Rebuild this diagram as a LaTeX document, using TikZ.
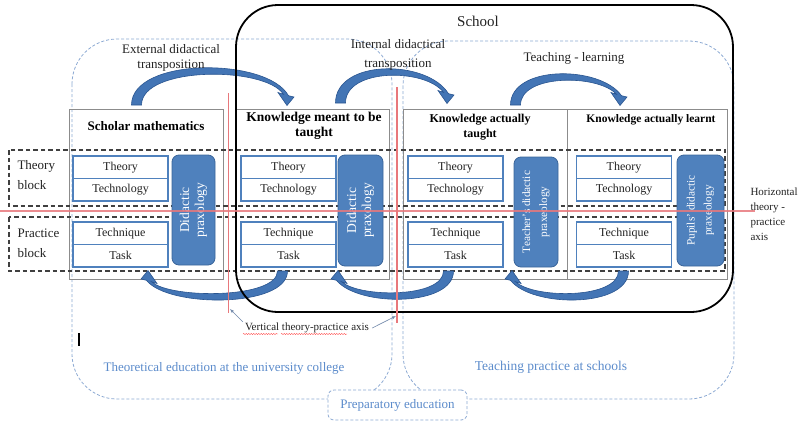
\documentclass[tikz,border=0pt]{standalone}
\usepackage{fontspec}
\setmainfont{Liberation Serif}
\usetikzlibrary{arrows.meta,decorations.pathmorphing}

\definecolor{boxblue}{HTML}{4F81BD}
\definecolor{praxfill}{HTML}{4F81BD}
\definecolor{praxedge}{HTML}{3A659A}
\definecolor{arrowfill}{HTML}{4375B5}
\definecolor{arrowedge}{HTML}{2A5590}
\definecolor{regionblue}{HTML}{8CA9D3}
\definecolor{labelblue}{HTML}{5B8BCB}
\definecolor{axisred}{HTML}{E8787C}
\definecolor{stagegray}{HTML}{8C8C8C}
\definecolor{textdark}{HTML}{222222}

% Curved block arrow: tail x, tip x, base y, control height
\newcommand\bendarrow[4]{%
  \filldraw[bendarrowstyle]
    ({#1-5.5},#3) .. controls ({#1-5.5},#4) and ({#2-20},#4) .. ({#2+1.5},{#3-9.3})
    -- ({#2+7},{#3-8}) -- (#2,{#3+0.5}) -- ({#2-9},{#3-12.5}) -- ({#2-3.5},{#3-10.7})
    .. controls ({#2-22},{#4+9}) and ({#1+4.5},{#4+9}) .. ({#1+4.5},#3) -- cycle;}

\begin{document}
\begin{tikzpicture}[x=1pt, y=-1pt,
  stagebox/.style={draw=stagegray, line width=0.7pt},
  tbox/.style={draw=boxblue, line width=1.1pt, fill=white, minimum width=95pt,
    minimum height=22.5pt, inner sep=0pt, text=textdark, font=\fontsize{12}{14}\selectfont},
  prax/.style={draw=praxedge, fill=praxfill, line width=0.8pt, rounded corners=7pt,
    rotate=90, align=center, text=white, inner sep=0pt},
  block/.style={draw=black!75, line width=1.2pt, dash pattern=on 4.5pt off 3pt},
  region/.style={draw=regionblue, line width=0.8pt, dash pattern=on 3pt off 2pt},
  axisline/.style={draw=axisred, line width=1.2pt},
  bendarrowstyle/.style={fill=arrowfill, draw=arrowedge, line width=0.6pt},
  title/.style={font=\bfseries\fontsize{13}{15}\selectfont, align=center, text=black},
  lbl/.style={font=\fontsize{13}{15}\selectfont, align=center, text=textdark},
  bluelbl/.style={font=\fontsize{13}{15}\selectfont, text=labelblue},
  pointer/.style={draw=regionblue!80!black, line width=0.6pt, -{Latex[length=4pt,width=3pt]}},
  squiggle/.style={draw=red!70, line width=0.4pt, decorate,
    decoration={snake, amplitude=0.6pt, segment length=2.5pt}},
]
\useasboundingbox (0,0) rectangle (801,421);

% settings: university college and schools
\draw[region, rounded corners=45pt] (72,39) rectangle (392,399);
\draw[region, rounded corners=45pt] (403,41) rectangle (734,399);

% the four stages of knowledge
\draw[stagebox] (69,109) rectangle (223,279);
\draw[stagebox] (236,109) rectangle (389,279);
\draw[stagebox] (403,109) rectangle (727,279);
\draw[stagebox] (567,109) -- (567,279);

% theory and practice blocks
\draw[block] (9,150) rectangle (725,206);
\draw[block] (9,217) rectangle (725,271);

% praxeology components of each stage
\foreach \cx/\k in {120.5/1, 288.5/2, 455.5/3, 624/4} {
  \node[tbox] (theory\k) at (\cx,167.25) {Theory};
  \node[tbox] (techno\k) at (\cx,189.75) {Technology};
  \node[tbox] (techni\k) at (\cx,233.25) {Technique};
  \node[tbox] (task\k)   at (\cx,255.75) {Task};
}

\node[prax, minimum width=110pt, minimum height=43pt, font=\fontsize{13.5}{15}\selectfont]
  (prax1) at (193.5,210) {Didactic\\praxology};
\node[prax, minimum width=111pt, minimum height=45pt, font=\fontsize{13.5}{15}\selectfont]
  (prax2) at (360.5,210.5) {Didactic\\praxology};
\node[prax, minimum width=110pt, minimum height=44pt, font=\fontsize{11.3}{17}\selectfont]
  (prax3) at (536,212) {Teacher’s didactic\\praxeology};
\node[prax, minimum width=111pt, minimum height=47pt, font=\fontsize{11.3}{17}\selectfont]
  (prax4) at (700.5,210.5) {Pupils’ didactic\\praxeology};

% stage titles
\node[title] (title1) at (146,126) {Scholar mathematics};
\node[title, font=\bfseries\fontsize{13.5}{15.5}\selectfont] (title2) at (314,126) {Knowledge meant to be\\taught};
\node[title, font=\bfseries\fontsize{12}{15}\selectfont] (title3) at (480,127) {Knowledge actually\\taught};
\node[title, font=\bfseries\fontsize{11.5}{14}\selectfont] (title4) at (651,120) {Knowledge actually learnt};

% transposition arrows above the stages
\bendarrow{137}{287}{105}{57}
\bendarrow{341}{447}{103}{59}
\bendarrow{516}{620}{105}{65}

% return arrows below the stages
\begin{scope}[rotate=180]
  \bendarrow{-282}{-148}{-271}{-308}
  \bendarrow{-448}{-338}{-271}{-307}
  \bendarrow{-623}{-512}{-271}{-308}
\end{scope}

% school boundary
\draw[line width=1.8pt, rounded corners=42pt] (236,5) rectangle (733,312);

% theory-practice axes
\coordinate (hA) at (0,211);
\coordinate (hB) at (755,211);
\draw[axisline, opacity=0.85] (hA) -- (hB);
\coordinate (v1top) at (228.5,93);
\coordinate (v1bot) at (228.5,313);
\draw[axisline] (v1top) -- (v1bot);
\coordinate (v2top) at (397,87);
\coordinate (v2bot) at (397,323);
\draw[axisline] (v2top) -- (v2bot);

% preparatory education
\node[region, fill=white, rounded corners=6pt, minimum width=139pt, minimum height=30pt,
  bluelbl] (prep) at (397.5,405) {Preparatory education};

% labels
\node[lbl, font=\fontsize{15}{17}\selectfont] (school) at (478,21) {School};
\node[lbl] (ext) at (171,58) {External didactical\\transposition};
\node[lbl, font=\fontsize{13}{19}\selectfont] (int) at (398,55) {Internal didactical\\transposition};
\node[lbl] (teachlearn) at (574,58) {Teaching - learning};

\node[lbl, align=left, font=\fontsize{13}{20}\selectfont, anchor=west] (tblock) at (14,175) {Theory\\block};
\node[lbl, align=left, font=\fontsize{13}{20}\selectfont, anchor=west] (pblock) at (14,243) {Practice\\block};

\node[lbl, align=left, font=\fontsize{11}{15}\selectfont, anchor=west] (haxis) at (747,214)
  {Horizontal\\theory -\\practice\\axis};

\node[lbl, font=\fontsize{11}{13}\selectfont, inner sep=1pt] (vaxis) at (307,328) {Vertical theory-practice axis};
\draw[squiggle] (243,334) -- (278,334);
\draw[squiggle] (281,334) -- (347,334);
\coordinate (vaxisA) at (230,309);
\coordinate (vaxisB) at (396,316);
\draw[pointer] ([xshift=-1pt]vaxis.north west) -- (vaxisA);
\draw[pointer] ([xshift=2pt]vaxis.east) -- (vaxisB);

\node[bluelbl] (theo) at (224,368) {Theoretical education at the university college};
\node[bluelbl, font=\fontsize{13.5}{15}\selectfont] (pract) at (551,367) {Teaching practice at schools};

% text cursor mark
\draw[line width=1.1pt] (79,333) -- (79,346);
\end{tikzpicture}
\end{document}
